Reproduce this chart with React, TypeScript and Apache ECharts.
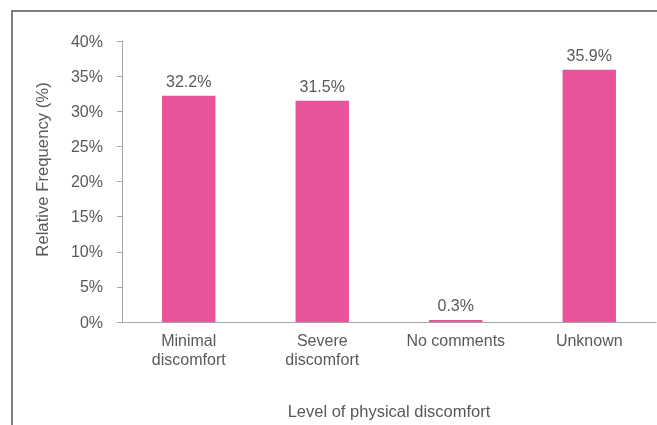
import React, { useEffect, useRef } from "react";
import * as echarts from "echarts";

const categories = ["Minimal\ndiscomfort", "Severe\ndiscomfort", "No comments", "Unknown"];
const values = [32.2, 31.5, 0.3, 35.9];
const yTicks = [0, 5, 10, 15, 20, 25, 30, 35, 40];
const yTitle = "Relative Frequency (%)";
const xTitle = "Level of physical discomfort";

const TEXT = "#595959";
const FONT = "Liberation Sans, Arial, sans-serif";

export default function App() {
  const ref = useRef<HTMLDivElement>(null);
  useEffect(() => {
    if (!ref.current) return;
    const chart = echarts.init(ref.current, undefined, { renderer: "svg" });
    chart.setOption({
      animation: false,
      textStyle: { fontFamily: FONT },
      grid: { left: 122, right: 1, top: 41, bottom: 103, containLabel: false },
      graphic: [
        { type: "line", shape: { x1: 11, y1: 11, x2: 657, y2: 11 }, style: { stroke: "#7f7f7f", lineWidth: 2 } },
        { type: "line", shape: { x1: 12, y1: 10, x2: 12, y2: 425 }, style: { stroke: "#7f7f7f", lineWidth: 2 } },
        {
          type: "text",
          x: 42.5,
          y: 169.5,
          rotation: Math.PI / 2,
          style: {
            text: yTitle,
            fill: TEXT,
            fontSize: 16.7,
            fontFamily: FONT,
            align: "center",
            verticalAlign: "middle",
          },
        },
      ],
      xAxis: {
        type: "category",
        data: categories,
        name: xTitle,
        nameLocation: "middle",
        nameGap: 80,
        nameTextStyle: { color: TEXT, fontSize: 16.5, fontFamily: FONT },
        axisLine: { lineStyle: { color: "#a6a6a6", width: 1 } },
        axisTick: { show: false },
        axisLabel: { color: TEXT, fontSize: 16, fontFamily: FONT, margin: 9, lineHeight: 19, interval: 0 },
      },
      yAxis: {
        type: "value",
        min: yTicks[0],
        max: yTicks[yTicks.length - 1],
        interval: 5,
        axisLine: { show: true, lineStyle: { color: "#a6a6a6", width: 1 } },
        axisTick: { show: true, length: 5, lineStyle: { color: "#a6a6a6" } },
        splitLine: { show: false },
        axisLabel: { color: TEXT, fontSize: 16, fontFamily: FONT, margin: 19, formatter: "{value}%" },
      },
      series: [
        {
          type: "bar",
          data: values,
          barWidth: "40%",
          itemStyle: { color: "#e85499" },
          label: {
            show: true,
            position: "top",
            distance: 6,
            color: TEXT,
            fontSize: 16,
            fontFamily: FONT,
            formatter: (p: any) => p.value.toFixed(1) + "%",
          },
        },
      ],
    });
    return () => chart.dispose();
  }, []);
  return <div ref={ref} style={{ position: "fixed", left: 0, top: 0, width: 657, height: 425 }} />;
}
